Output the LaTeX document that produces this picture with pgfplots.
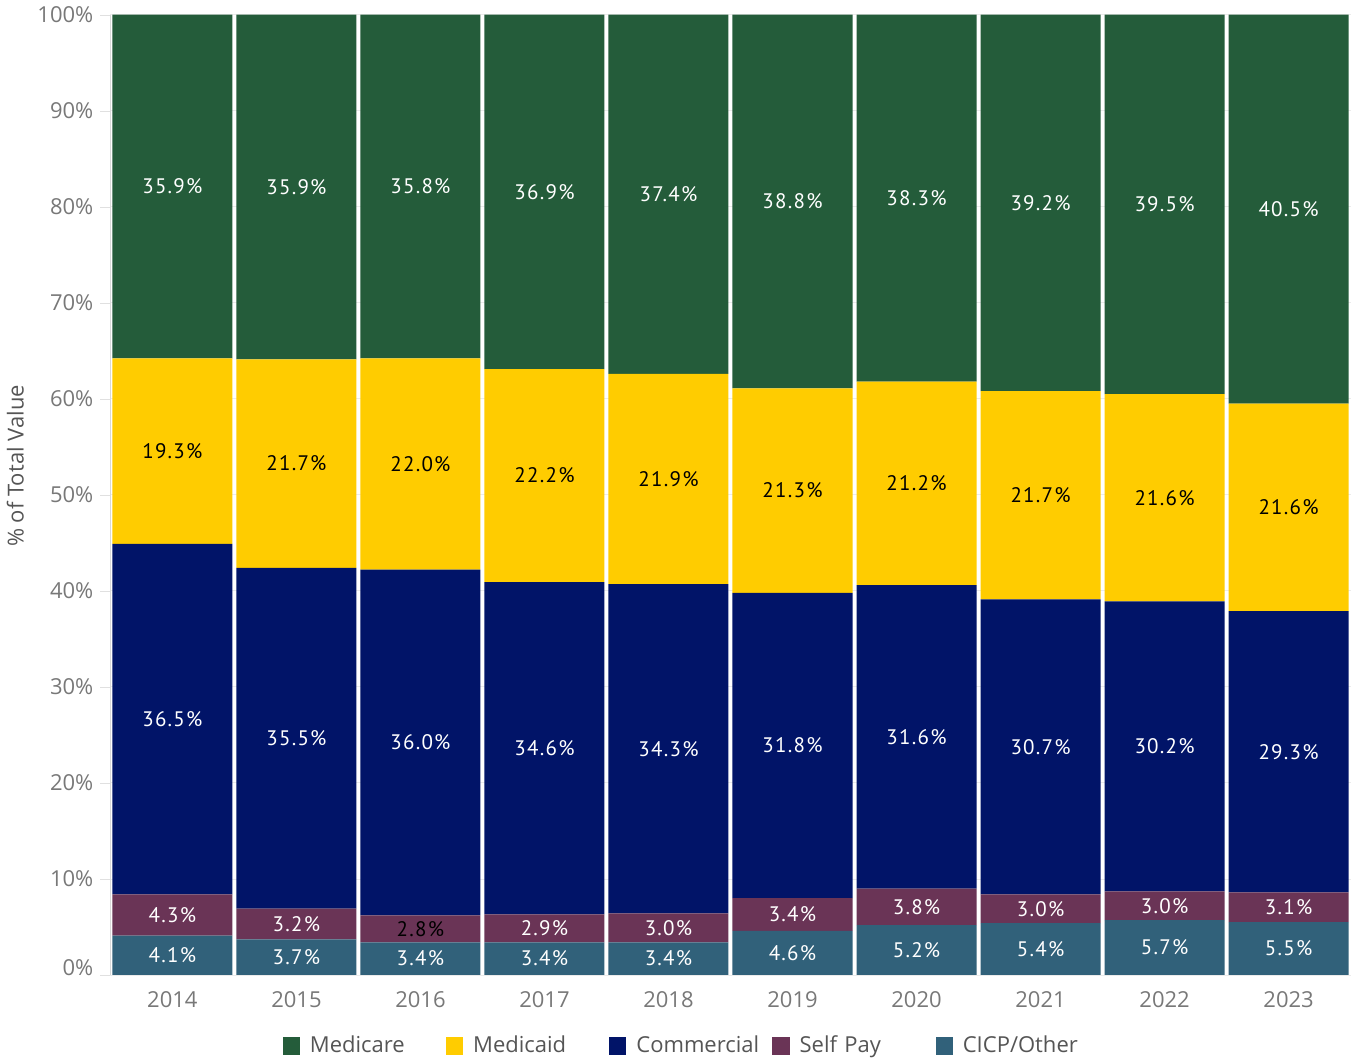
\documentclass[border=0pt]{standalone}
\usepackage{fontspec}
\setmainfont{Open Sans}
\newfontfamily\labelfont[LetterSpace=6]{PT Sans}
\usepackage{pgfplots}
\pgfplotsset{compat=1.18}

\definecolor{medicare}{RGB}{36,92,58}
\definecolor{medicaid}{RGB}{255,204,0}
\definecolor{commercial}{RGB}{1,20,104}
\definecolor{selfpay}{RGB}{106,52,86}
\definecolor{cicp}{RGB}{49,97,122}
\definecolor{ticktext}{RGB}{120,120,120}
\definecolor{legtext}{RGB}{85,85,85}
% black label inside a light-text series (survives expansion of the meta)
\protected\def\blk{\color{black}}

\begin{document}
\begin{tikzpicture}
\begin{axis}[
    scale only axis,
    width=620pt, height=480pt,
    ybar stacked,
    bar width=60pt,
    xmin=-0.5, xmax=9.5,
    ymin=0, ymax=100,
    xtick=data,
    xticklabels={2014,2015,2016,2017,2018,2019,2020,2021,2022,2023},
    ytick={0,10,...,100},
    yticklabels={\raisebox{7pt}{0\%},10\%,20\%,30\%,40\%,50\%,60\%,70\%,80\%,90\%,100\%},
    ymajorgrids,
    grid style={draw=black!8},
    axis lines*=left,
    x axis line style={draw=none},
    y axis line style={draw=black!15},
    tick align=outside,
    major tick length=5pt,
    xtick style={draw=none},
    ytick style={draw=black!12},
    tick label style={font=\fontsize{11}{13}\selectfont, text=ticktext},
    /pgf/number format/assume math mode=true,
    ylabel={\% of Total Value},
    ylabel style={font=\fontsize{11}{13}\selectfont, text=legtext, at={(ticklabel cs:0.53)}},
    point meta=explicit symbolic,
    nodes near coords={\pgfplotspointmeta\%},
    every node near coord/.append style={font=\labelfont\fontsize{10.5}{12}\selectfont,
        anchor=center},
    reverse legend,
    legend columns=5,
    legend style={at={(0.468,-0.055)}, anchor=north, draw=none, fill=none,
        font=\fontsize{11}{13}\selectfont, text=legtext,
        nodes={text width=66pt, align=left, inner sep=2pt},
        /tikz/every odd column/.append style={column sep=3pt}},
    legend image code/.code={\fill[#1,draw=none] (0pt,-4.3pt) rectangle (8.6pt,4.3pt);},
]
\addplot[fill=cicp, draw=none, every node near coord/.append style={text=white}]
    coordinates {(0,4.1)[4.1] (1,3.7)[3.7] (2,3.4)[3.4] (3,3.4)[3.4] (4,3.4)[3.4]
                 (5,4.6)[4.6] (6,5.2)[5.2] (7,5.4)[5.4] (8,5.7)[5.7] (9,5.5)[5.5]};
\addplot[fill=selfpay, draw=none, every node near coord/.append style={text=white}]
    coordinates {(0,4.3)[4.3] (1,3.2)[3.2] (2,2.8)[\blk 2.8] (3,2.9)[2.9] (4,3.0)[3.0]
                 (5,3.4)[3.4] (6,3.8)[3.8] (7,3.0)[3.0] (8,3.0)[3.0] (9,3.1)[3.1]};
\addplot[fill=commercial, draw=none, every node near coord/.append style={text=white}]
    coordinates {(0,36.5)[36.5] (1,35.5)[35.5] (2,36.0)[36.0] (3,34.6)[34.6] (4,34.3)[34.3]
                 (5,31.8)[31.8] (6,31.6)[31.6] (7,30.7)[30.7] (8,30.2)[30.2] (9,29.3)[29.3]};
\addplot[fill=medicaid, draw=none, every node near coord/.append style={text=black}]
    coordinates {(0,19.3)[19.3] (1,21.7)[21.7] (2,22.0)[22.0] (3,22.2)[22.2] (4,21.9)[21.9]
                 (5,21.3)[21.3] (6,21.2)[21.2] (7,21.7)[21.7] (8,21.6)[21.6] (9,21.6)[21.6]};
% Medicare fills each bar up to 100%
\addplot[fill=medicare, draw=none, every node near coord/.append style={text=white}]
    coordinates {(0,35.8)[35.9] (1,35.9)[35.9] (2,35.8)[35.8] (3,36.9)[36.9] (4,37.4)[37.4]
                 (5,38.9)[38.8] (6,38.2)[38.3] (7,39.2)[39.2] (8,39.5)[39.5] (9,40.5)[40.5]};
\legend{CICP/Other, Self Pay, Commercial, Medicaid, Medicare}
\end{axis}
\end{tikzpicture}
\end{document}
